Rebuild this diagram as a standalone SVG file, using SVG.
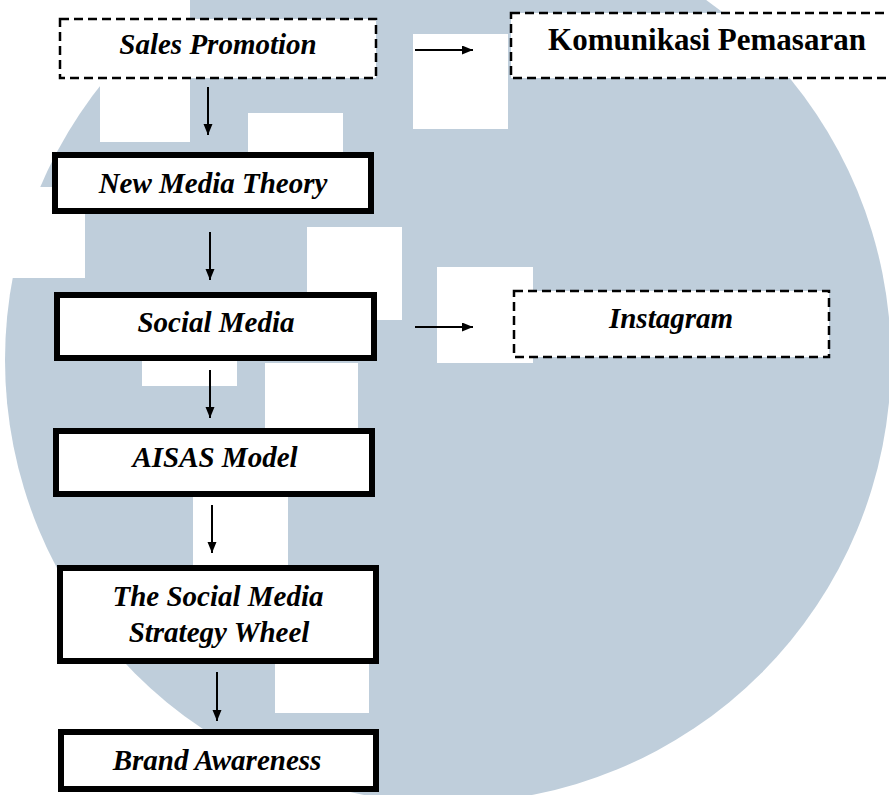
<svg xmlns="http://www.w3.org/2000/svg" width="889" height="795" viewBox="0 0 889 795">
<defs>
<style>
.bgc{fill:#bfcedb}
.wr{fill:#ffffff}
.dash{fill:#ffffff;stroke:#000;stroke-width:2.5;stroke-dasharray:9 5}
.solid{fill:#ffffff;stroke:#000;stroke-width:6}
.lbl{font-family:"Liberation Serif","Times New Roman",serif;font-weight:bold;font-style:italic;font-size:29px;fill:#000;text-anchor:middle}
.lblu{font-family:"Liberation Serif","Times New Roman",serif;font-weight:bold;font-size:31px;fill:#000;text-anchor:middle}
.con{stroke:#000;stroke-width:2;fill:none;marker-end:url(#ah)}
</style>
<marker id="ah" markerUnits="userSpaceOnUse" markerWidth="12" markerHeight="10" refX="11" refY="4.5" orient="auto">
<path d="M0,0 L11,4.5 L0,9 z" fill="#000"/>
</marker>
</defs>
<rect width="889" height="795" fill="#ffffff"/>
<g id="watermark">
<circle class="bgc" cx="448" cy="360" r="443"/>
<rect class="wr" x="100" y="0" width="90" height="142"/>
<rect class="wr" x="0" y="187" width="85" height="91"/>
<rect class="wr" x="248" y="113" width="95" height="80"/>
<rect class="wr" x="413" y="34" width="95" height="95"/>
<rect class="wr" x="307" y="227" width="95" height="93"/>
<rect class="wr" x="437" y="267" width="96" height="96"/>
<rect class="wr" x="142" y="320" width="95" height="66"/>
<rect class="wr" x="265" y="363" width="93" height="80"/>
<rect class="wr" x="193" y="470" width="95" height="95"/>
<rect class="wr" x="275" y="620" width="94" height="93"/>
</g>
<g id="connectors">
<line class="con" x1="208" y1="87" x2="208" y2="135"/>
<line class="con" x1="415" y1="50" x2="473" y2="50"/>
<line class="con" x1="210" y1="232" x2="210" y2="280"/>
<line class="con" x1="415" y1="327" x2="473" y2="327"/>
<line class="con" x1="210" y1="370" x2="210" y2="418"/>
<line class="con" x1="212" y1="505" x2="212" y2="553"/>
<line class="con" x1="217" y1="672" x2="217" y2="721"/>
</g>
<g id="sales-promotion">
<rect class="dash" x="60" y="19" width="316" height="59"/>
<text class="lbl" x="218" y="54">Sales Promotion</text>
</g>
<g id="komunikasi-pemasaran">
<rect class="dash" x="511" y="13" width="400" height="65"/>
<text class="lblu" x="707" y="50">Komunikasi Pemasaran</text>
</g>
<g id="new-media-theory">
<rect class="solid" x="55" y="155" width="316" height="56"/>
<text class="lbl" x="213" y="193">New Media Theory</text>
</g>
<g id="social-media">
<rect class="solid" x="57" y="295" width="317" height="63"/>
<text class="lbl" x="216" y="332">Social Media</text>
</g>
<g id="instagram">
<rect class="dash" x="514" y="291" width="315" height="66"/>
<text class="lbl" x="671" y="328">Instagram</text>
</g>
<g id="aisas-model">
<rect class="solid" x="56" y="431" width="316" height="63"/>
<text class="lbl" x="215" y="467">AISAS Model</text>
</g>
<g id="strategy-wheel">
<rect class="solid" x="60" y="568" width="316" height="93"/>
<text class="lbl" x="218" y="606">The Social Media</text>
<text class="lbl" x="219" y="642">Strategy Wheel</text>
</g>
<g id="brand-awareness">
<rect class="solid" x="61" y="732" width="315" height="57"/>
<text class="lbl" x="217" y="770">Brand Awareness</text>
</g>
</svg>
